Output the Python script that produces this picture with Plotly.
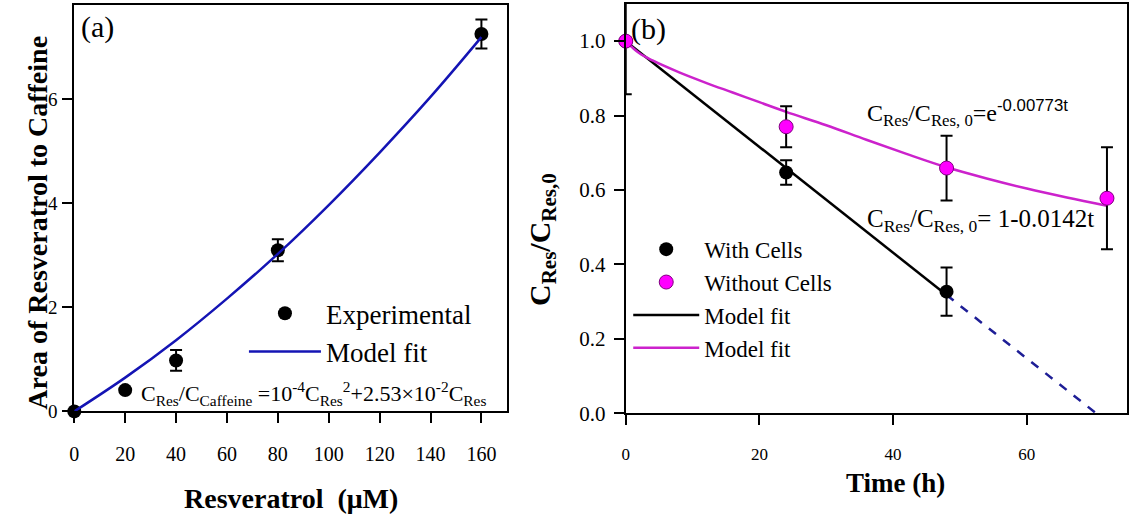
import plotly.graph_objects as go

W, H = 1129, 527
FONT = "Liberation Serif"

# ---------------- Panel (a) data ----------------
res_conc = [0, 20, 40, 80, 160]
area_ratio = [0.0, 0.41, 0.98, 3.10, 7.26]
area_err = [0.0, 0.0, 0.20, 0.21, 0.28]

fit_a_x = [0, 20, 40, 60, 80, 100, 120, 140, 160]
fit_a_y = [0.0, 0.65, 1.37, 2.17, 3.03, 3.97, 4.98, 6.05, 7.20]

# ---------------- Panel (b) data ----------------
t_with = [0, 24, 48]
c_with = [1.0, 0.647, 0.327]
c_with_err = [0.143, 0.033, 0.065]

t_without = [0, 24, 48, 72]
c_without = [1.0, 0.770, 0.659, 0.578]
c_without_err = [0.0, 0.055, 0.087, 0.137]

fit_lin_t = [0, 48]
fit_lin_c = [1.0, 0.318]
extrap_t = [48, 70.4]
extrap_c = [0.318, 0.0]

fit_exp_t = [0, 2, 4, 8, 12, 16, 20, 24, 30, 36, 42, 48, 54, 60, 66, 72]
fit_exp_c = [1.0, 0.968, 0.948, 0.916, 0.888, 0.862, 0.836, 0.810, 0.774,
             0.735, 0.697, 0.661, 0.631, 0.604, 0.580, 0.558]


def px(x):
    return x / W


def py(y):
    return 1 - y / H


def f(size):
    return dict(family=FONT, size=size, color="black")


fig = go.Figure()

# Panel (a)
fig.add_trace(go.Scatter(
    x=res_conc, y=area_ratio, mode="markers", name="Experimental",
    marker=dict(color="black", size=14),
    error_y=dict(type="data", array=area_err, color="black", thickness=2, width=6),
    xaxis="x", yaxis="y", legend="legend", legendrank=1, cliponaxis=False))
fig.add_trace(go.Scatter(
    x=fit_a_x, y=fit_a_y, mode="lines", name="Model fit",
    line=dict(color="#1414B4", width=2.5, shape="spline"),
    xaxis="x", yaxis="y", legend="legend", legendrank=2))

# Panel (b)
fig.add_trace(go.Scatter(
    x=fit_lin_t, y=fit_lin_c, mode="lines", name="Model fit",
    line=dict(color="black", width=2.5),
    xaxis="x2", yaxis="y2", legend="legend2", legendrank=3))
fig.add_trace(go.Scatter(
    x=fit_exp_t, y=fit_exp_c, mode="lines", name="Model fit",
    line=dict(color="#CC22CC", width=2.5, shape="spline"),
    xaxis="x2", yaxis="y2", legend="legend2", legendrank=4))
fig.add_trace(go.Scatter(
    x=extrap_t, y=extrap_c, mode="lines", showlegend=False,
    line=dict(color="#1E1E96", width=2.5, dash="dash"),
    xaxis="x2", yaxis="y2"))
fig.add_trace(go.Scatter(
    x=t_with, y=c_with, mode="markers", name="With Cells",
    marker=dict(color="black", size=14),
    error_y=dict(type="data", array=c_with_err, color="black", thickness=2, width=6),
    xaxis="x2", yaxis="y2", legend="legend2", legendrank=1, cliponaxis=False))
fig.add_trace(go.Scatter(
    x=t_without, y=c_without, mode="markers", name="Without Cells",
    marker=dict(color="#FF00FF", size=14, line=dict(color="#800080", width=1)),
    error_y=dict(type="data", array=c_without_err, color="black", thickness=2, width=6),
    xaxis="x2", yaxis="y2", legend="legend2", legendrank=2, cliponaxis=False))

axis_common = dict(showline=True, linecolor="black", linewidth=2, mirror=True,
                   ticks="outside", ticklen=10, tickwidth=2, tickcolor="black",
                   showgrid=False, zeroline=False, color="black")

fig.update_layout(
    width=W, height=H,
    margin=dict(l=0, r=0, t=0, b=0),
    paper_bgcolor="white", plot_bgcolor="white",
    font=f(20),
    xaxis=dict(domain=[px(69.6), px(504.6)], range=[0, 170.2],
               tickvals=[0, 20, 40, 60, 80, 100, 120, 140, 160],
               tickfont=f(20), ticklabelstandoff=14, anchor="y", **axis_common),
    yaxis=dict(domain=[py(421), py(5)], range=[0, 7.82], tickvals=[0, 2, 4, 6],
               tickfont=f(19), ticklabelstandoff=1, anchor="x", **axis_common),
    xaxis2=dict(domain=[px(623.5), px(1127)], range=[0, 75], tickvals=[0, 20, 40, 60],
                tickfont=f(17), ticklabelstandoff=14, anchor="y2", **axis_common),
    yaxis2=dict(domain=[py(423), py(4)], range=[0, 1.1],
                tickvals=[0, 0.2, 0.4, 0.6, 0.8, 1.0], tickformat=".1f",
                tickfont=f(21), ticklabelstandoff=4, anchor="x2", **axis_common),
    legend=dict(x=px(240), y=py(296), xanchor="left", yanchor="top",
                bgcolor="rgba(0,0,0,0)", font=f(27), itemwidth=72,
                tracegroupgap=0),
    legend2=dict(x=px(626), y=py(233), xanchor="left", yanchor="top",
                 bgcolor="rgba(0,0,0,0)", font=f(23), itemwidth=66,
                 tracegroupgap=0),
    showlegend=True,
)

annotations = [
    dict(text="(a)", x=px(74), y=py(28), xanchor="left", yanchor="middle", font=f(30)),
    dict(text="(b)", x=px(627), y=py(30), xanchor="left", yanchor="middle", font=f(30)),
    dict(text="<b>Area of Resveratrol to Caffeine</b>", x=px(33), y=py(228), textangle=-90,
         xanchor="center", yanchor="middle", font=f(28)),
    dict(text="<b>Resveratrol  (\u03bcM)</b>", x=px(287), y=py(510),
         xanchor="center", yanchor="middle", font=f(28)),
    dict(text="<b>Time (h)</b>", x=px(894), y=py(494),
         xanchor="center", yanchor="middle", font=f(27)),
    dict(text="<b>C<sub>Res</sub>/C<sub>Res,0</sub></b>", x=px(540), y=py(245), textangle=-90,
         xanchor="center", yanchor="middle", font=f(30)),
    dict(text="C<sub>Res</sub>/C<sub>Caffeine</sub> =10<sup>-4</sup>C<sub>Res</sub><sup>2</sup>"
              "+2.53\u00d710<sup>-2</sup>C<sub>Res</sub>",
         x=px(135), y=py(403), xanchor="left", yanchor="middle", font=f(22)),
    dict(text="C<sub>Res</sub>/C<sub>Res, 0</sub>=e<sup><span style=\"font-family:Liberation Sans\">"
              "-0.00773t</span></sup>",
         x=px(864), y=py(116), xanchor="left", yanchor="middle", font=f(24)),
    dict(text="C<sub>Res</sub>/C<sub>Res, 0</sub>= 1-0.0142t",
         x=px(864), y=py(226), xanchor="left", yanchor="middle", font=f(25)),
]
for a in annotations:
    a.update(xref="paper", yref="paper", showarrow=False)
fig.update_layout(annotations=annotations)

fig.write_html("out.html")
